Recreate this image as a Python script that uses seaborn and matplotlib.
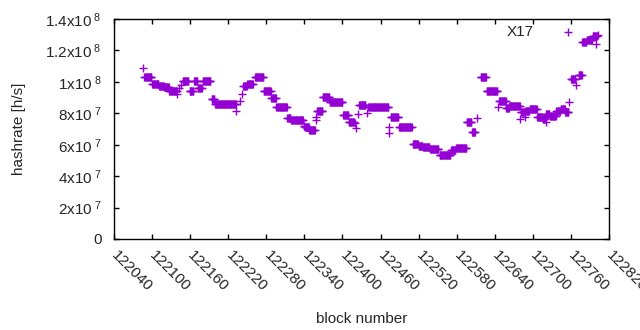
import matplotlib
matplotlib.use("Agg")
import matplotlib.pyplot as plt
import pandas as pd
import seaborn as sns

# runs of consecutive blocks sharing one hashrate (x1e7 h/s)
run_start = [122085, 122088, 122100, 122111, 122119, 122127, 122140, 122143, 122146,
             122148, 122159, 122166, 122172, 122180, 122194, 122199, 122233, 122238,
             122242, 122244, 122250, 122262, 122276, 122288, 122296, 122313, 122319,
             122339, 122341, 122348, 122358, 122359, 122360, 122369, 122380, 122401,
             122410, 122419, 122421, 122425, 122426, 122438, 122441, 122473, 122474,
             122476, 122489, 122511, 122520, 122527, 122538, 122553, 122571, 122579,
             122596, 122604, 122612, 122618, 122627, 122645, 122647, 122658, 122663,
             122680, 122681, 122687, 122688, 122695, 122707, 122716, 122720, 122721,
             122727, 122737, 122744, 122751, 122757, 122760, 122768, 122772, 122778,
             122785, 122794, 122800, 122802]
run_end = [122085, 122099, 122110, 122118, 122126, 122139, 122140, 122143, 122146,
           122157, 122165, 122171, 122178, 122192, 122198, 122232, 122233, 122238,
           122242, 122249, 122259, 122275, 122287, 122295, 122312, 122318, 122338,
           122340, 122347, 122356, 122358, 122359, 122368, 122379, 122400, 122409,
           122418, 122419, 122421, 122425, 122436, 122438, 122472, 122473, 122474,
           122488, 122509, 122519, 122526, 122537, 122551, 122570, 122578, 122595,
           122603, 122609, 122612, 122626, 122644, 122645, 122657, 122662, 122679,
           122680, 122686, 122687, 122694, 122706, 122715, 122719, 122720, 122726,
           122736, 122743, 122750, 122756, 122757, 122767, 122768, 122777, 122784,
           122793, 122801, 122800, 122802]
run_value = [10.86, 10.29, 9.84, 9.74, 9.65, 9.42, 9.23, 9.59, 9.80,
             10.03, 9.42, 10.05, 9.59, 10.03, 8.90, 8.57, 8.15, 8.78,
             9.21, 9.76, 9.84, 10.31, 9.42, 8.95, 8.42, 7.72, 7.55,
             7.19, 7.15, 6.94, 7.57, 7.74, 8.13, 9.06, 8.70, 7.87,
             7.47, 7.36, 7.04, 7.93, 8.51, 8.04, 8.38, 6.72, 7.10,
             7.74, 7.10, 6.07, 5.94, 5.83, 5.73, 5.33, 5.66, 5.81,
             7.42, 6.79, 7.68, 10.31, 9.42, 8.42, 8.78, 8.35, 8.46,
             7.62, 8.10, 7.74, 8.15, 8.29, 7.78, 7.62, 7.47, 7.98,
             7.85, 8.15, 8.29, 8.10, 8.74, 10.20, 9.80, 10.42, 12.54,
             12.66, 12.90, 12.40, 13.00]

xticks = list(range(122040, 122821, 60))
yticks = [0, 2e7, 4e7, 6e7, 8e7, 1e8, 1.2e8, 1.4e8]
ytick_labels = ['0', r'2x10$^{\ 7}$', r'4x10$^{\ 7}$', r'6x10$^{\ 7}$', r'8x10$^{\ 7}$',
                r'1x10$^{\ 8}$', r'1.2x10$^{\ 8}$', r'1.4x10$^{\ 8}$']

blocks, rates = [], []
for s, e, v in zip(run_start, run_end, run_value):
    for b in range(s, e + 1):
        blocks.append(b)
        rates.append(v * 1e7)
df = pd.DataFrame({'block': blocks, 'hashrate': rates})

sns.set_style("ticks")
plt.rcParams['font.family'] = ['Liberation Sans', 'DejaVu Sans']
plt.rcParams['mathtext.fontset'] = 'custom'
plt.rcParams['mathtext.rm'] = 'Liberation Sans'
plt.rcParams['mathtext.it'] = 'Liberation Sans'

fs = 11
fig = plt.figure(figsize=(6.4, 3.3), dpi=100)
ax = fig.add_axes([114 / 640, 91 / 330, 495 / 640, 220 / 330])

sns.scatterplot(data=df, x='block', y='hashrate', marker='+', color='#9400D3',
                s=38, linewidth=1, label='X17', ax=ax)

ax.set_xlim(122040, 122820)
ax.set_ylim(0, 1.4e8)
ax.set_xticks(xticks)
ax.set_xticklabels([str(t) for t in xticks], rotation=-45, ha='left', va='center',
                   rotation_mode='anchor', fontsize=fs)
ax.set_yticks(yticks)
ax.set_yticklabels(ytick_labels, fontsize=fs)
ax.tick_params(direction='in', top=True, right=True, length=3.6, width=1, color='black')
ax.tick_params(axis='x', pad=10)
ax.tick_params(axis='y', pad=9)
for sp in ax.spines.values():
    sp.set_color('black')
    sp.set_linewidth(1)

ax.set_xlabel('block number', fontsize=fs, labelpad=13)
ax.set_ylabel('hashrate [h/s]', fontsize=fs, labelpad=14)

ax.legend(loc='upper right', bbox_to_anchor=(0.958, 0.995), frameon=False, markerfirst=False,
          fontsize=fs, handletextpad=1.3, borderaxespad=0, borderpad=0.3, handlelength=2)

fig.savefig('out.png', dpi=100)
